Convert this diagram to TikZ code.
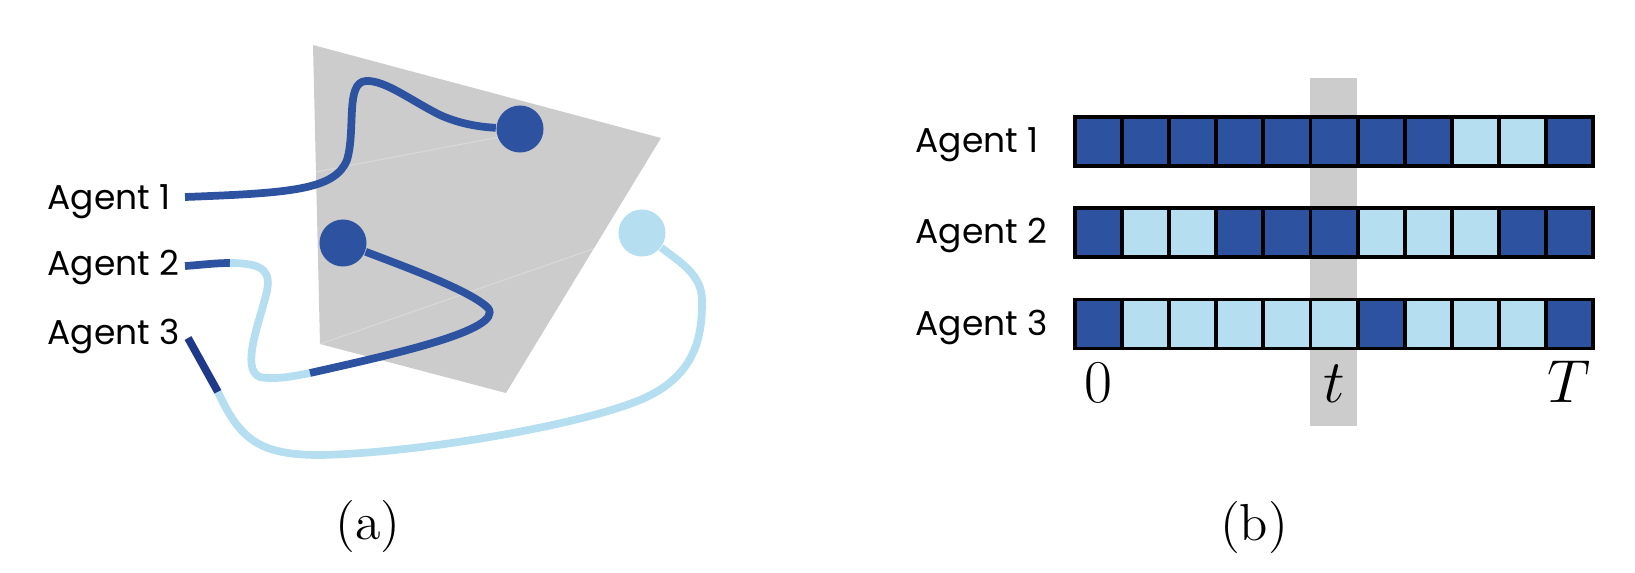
\documentclass[tikz,border=0pt]{standalone}
\usepackage{amsmath}
\usepackage{fontspec}
\usepackage{tikz}
\newfontfamily\agentfont{Poppins}

\definecolor{dk}{HTML}{2C52A0}
\definecolor{lt}{HTML}{B5DEF0}
\definecolor{deep}{HTML}{1F388A}
\definecolor{plane}{HTML}{CCCCCC}

\tikzset{
	track/.style={line width=2.2pt},
	dot/.style={circle, inner sep=0pt, minimum size=0.47cm},
	agent/.style={font=\agentfont\fontsize{9.8}{12}\selectfont, inner sep=0pt},
	cell/.style={draw=black, line width=1.1pt, minimum width=0.471cm, minimum height=0.49cm, inner sep=0pt},
	tick/.style={font=\fontsize{17}{20}\selectfont, inner sep=0pt, anchor=base},
	caption/.style={font=\fontsize{14.8}{18}\selectfont, inner sep=0pt, anchor=base}
}

\begin{document}
\begin{tikzpicture}[x=0.01cm, y=-0.01cm]
	\useasboundingbox (0,0) rectangle (1635,572);

	\fill [plane] (313,45) -- (661,138) -- (506,393) -- (320,344) -- cycle;
	\draw [white, opacity=0.25, line width=0.3pt] (315,172) -- (500,137);
	\draw [white, opacity=0.25, line width=0.3pt] (320,344) -- (593,249);

	\node [agent, anchor=base west] (l1) at (47,209) {Agent 1};
	\node [agent, anchor=base west] (l2) at (47,275) {Agent 2};
	\node [agent, anchor=base west] (l3) at (47,344) {Agent 3};

	\node [dot, fill=dk] (a1) at (520,129) {};
	\node [dot, fill=dk] (a2) at (343,243) {};
	\node [dot, fill=lt] (a3) at (642,233) {};

	\coordinate (s1) at (185,197);
	\coordinate (s2) at (185,266);
	\coordinate (k2a) at (230,263);
	\coordinate (k2b) at (310,373);
	\coordinate (s3) at (188,338);
	\coordinate (k3) at (218,392);

	\draw [track, dk] (s1) .. controls (290,193) and (335,190) .. (347,160)
		.. controls (356,130) and (345,82) .. (366,81)
		.. controls (385,80) and (410,100) .. (440,115)
		.. controls (460,124) and (480,127) .. (a1);
	\draw [track, dk] (s2) .. controls (200,265) and (215,263) .. (k2a);
	\draw [track, lt] (k2a) .. controls (265,263) and (272,272) .. (266,295)
		.. controls (260,320) and (240,370) .. (260,377)
		.. controls (275,380) and (295,376) .. (k2b);
	\draw [track, dk] (k2b) .. controls (390,355) and (505,330) .. (488,308)
		.. controls (470,290) and (400,265) .. (a2);
	\draw [track, deep] (s3) -- (k3);
	\draw [track, lt] (k3) .. controls (240,440) and (260,455) .. (320,455)
		.. controls (420,453) and (580,425) .. (640,400)
		.. controls (700,375) and (702,330) .. (702,300)
		.. controls (702,275) and (680,262) .. (a3);

	\node [caption] (capa) at (368,539) {(a)};

	\fill [plane] (1310,78) rectangle (1357,426);
	\foreach \c/\fa/\fb/\fc in {1/dk/dk/dk, 2/dk/lt/lt, 3/dk/lt/lt, 4/dk/dk/lt, 5/dk/dk/lt, 6/dk/dk/lt, 7/dk/lt/dk, 8/dk/lt/lt, 9/lt/lt/lt, 10/lt/dk/lt, 11/dk/dk/dk} {
		\node [cell, fill=\fa] (c1-\c) at ({1075+47.1*(\c-0.5)},141.5) {};
		\node [cell, fill=\fb] (c2-\c) at ({1075+47.1*(\c-0.5)},232.5) {};
		\node [cell, fill=\fc] (c3-\c) at ({1075+47.1*(\c-0.5)},324) {};
	}

	\node [agent, anchor=base west] (r1) at (915,152) {Agent 1};
	\node [agent, anchor=base west] (r2) at (915,243) {Agent 2};
	\node [agent, anchor=base west] (r3) at (915,335) {Agent 3};

	\path (c3-1) ++(0,78) node [tick] (t0) {$0$};
	\path (c3-6) ++(0,78) node [tick] (tt) {$t$};
	\path (c3-11) ++(0,78) node [tick] (tT) {$T$};

	\node [caption] (capb) at (1254,540) {(b)};
\end{tikzpicture}
\end{document}
